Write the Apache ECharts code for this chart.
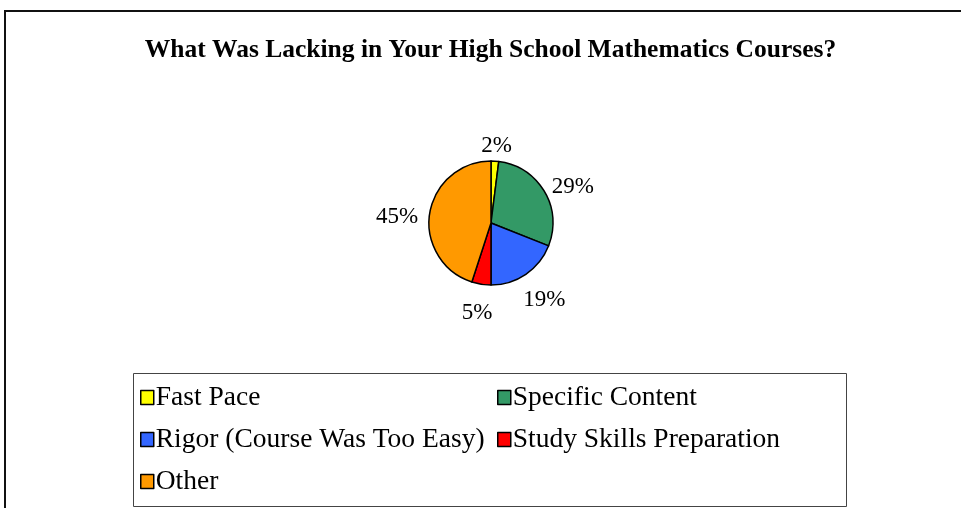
<!DOCTYPE html>
<html>
<head>
<meta charset="utf-8">
<script src="https://cdn.jsdelivr.net/npm/echarts@6/dist/echarts.min.js"></script>
<style>
html,body{margin:0;padding:0;background:#fff;}
#chart{width:961px;height:508px;}
</style>
</head>
<body>
<div id="chart"></div>
<script>
const titleText = 'What Was Lacking in Your High School Mathematics Courses?';
const categories = ['Fast Pace', 'Specific Content', 'Rigor (Course Was Too Easy)', 'Study Skills Preparation', 'Other'];
const values = [2, 29, 19, 5, 45];
const colors = ['#FFFF00', '#339966', '#3366FF', '#FF0000', '#FF9900'];
const legendCol1 = ['Fast Pace', 'Rigor (Course Was Too Easy)', 'Other'];
const legendCol2 = ['Specific Content', 'Study Skills Preparation'];

const FONT = "'Liberation Serif', 'Times New Roman', serif";
const PIE_CENTER = [491, 223];
const PIE_R = 62;
const LABEL_FS = 23;

const chart = echarts.init(document.getElementById('chart'), null, {renderer: 'canvas'});

const total = values.reduce((a, b) => a + b, 0);
function midAngle(i) {
  let cum = 0;
  for (let k = 0; k < i; k++) cum += values[k];
  return (cum + values[i] / 2) / total * Math.PI * 2;
}

const legendBase = {
  orient: 'vertical',
  icon: 'rect',
  itemWidth: 13,
  itemHeight: 14,
  itemGap: 14,
  top: 383.5,
  padding: 0,
  selectedMode: false,
  itemStyle: {borderColor: '#000', borderWidth: 1.5},
  textStyle: {fontFamily: FONT, fontSize: 27.5, color: '#000', lineHeight: 27.5, padding: [0, 0, 0, -3]}
};

chart.setOption({
  backgroundColor: '#fff',
  animation: false,
  title: {
    text: titleText,
    left: 485.5,
    textAlign: 'center',
    top: 32,
    textStyle: {fontFamily: FONT, fontWeight: 'bold', fontSize: 25.5, color: '#000'}
  },
  legend: [
    Object.assign({}, legendBase, {left: 140, data: legendCol1}),
    Object.assign({}, legendBase, {left: 497, data: legendCol2})
  ],
  graphic: [
    {type: 'polyline', shape: {points: [[5, 508], [5, 11], [961, 11]]}, style: {stroke: '#111', lineWidth: 2, fill: null}},
    {type: 'rect', shape: {x: 133.5, y: 373.5, width: 713, height: 133}, style: {stroke: '#444', lineWidth: 1, fill: null}}
  ],
  series: [{
    type: 'pie',
    center: PIE_CENTER,
    radius: PIE_R,
    startAngle: 90,
    clockwise: true,
    data: categories.map((c, i) => ({name: c, value: values[i], itemStyle: {color: colors[i]}})),
    itemStyle: {borderColor: '#000', borderWidth: 1.5},
    label: {
      show: true,
      position: 'outside',
      formatter: '{d}%',
      fontFamily: FONT,
      fontSize: LABEL_FS,
      color: '#000'
    },
    labelLine: {show: false, length: 8, length2: 0},
    labelLayout: function (p) {
      // place label box just outside the slice, box anchored around its perimeter
      const a = midAngle(p.dataIndex);
      const dx = Math.sin(a), dy = -Math.cos(a);
      const w = p.labelRect.width;
      const h = 20;
      const gap = 12;
      const d = PIE_R + gap;
      return {
        x: PIE_CENTER[0] + dx * d + dx * w / 2,
        y: PIE_CENTER[1] + dy * d + dy * h / 2 + 7,
        align: 'center',
        verticalAlign: 'middle'
      };
    },
    emphasis: {disabled: true}
  }]
});
</script>
</body>
</html>
